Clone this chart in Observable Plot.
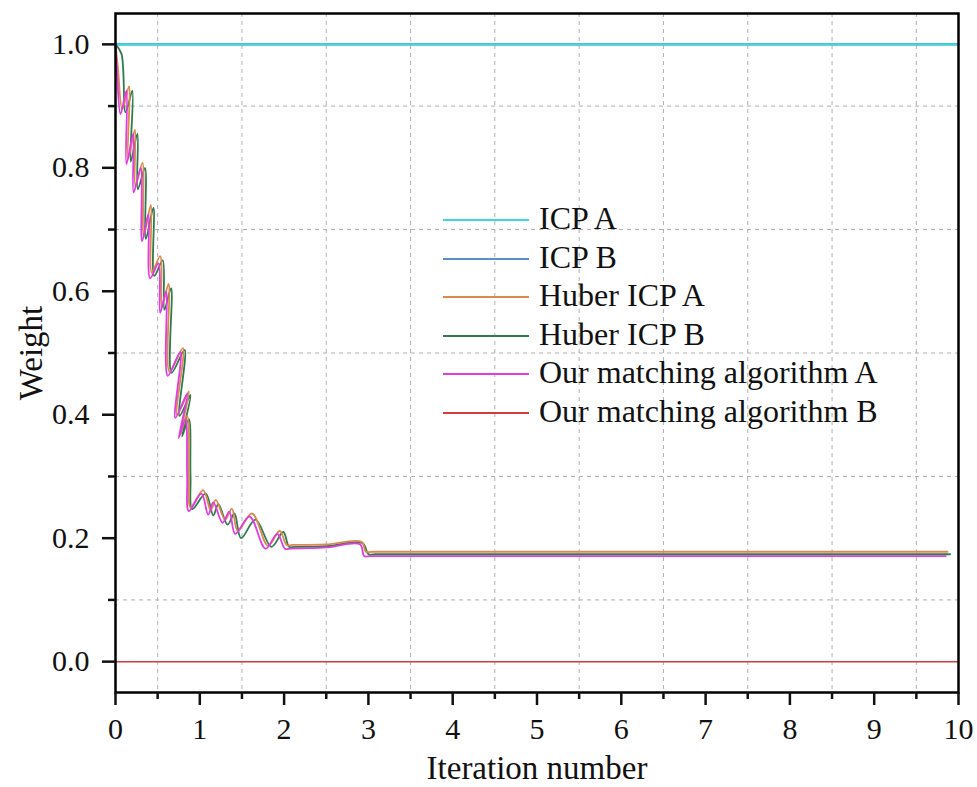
<!DOCTYPE html>
<html>
<head>
<meta charset="utf-8">
<script src="https://cdn.jsdelivr.net/npm/d3@7"></script>
<script src="https://cdn.jsdelivr.net/npm/@observablehq/plot@0.6"></script>
<style>
  html, body { margin: 0; padding: 0; background: #fff; }
  #wrap { position: relative; width: 977px; height: 787px; font-family: "Liberation Serif", "Times New Roman", serif; }
  #wrap svg text { font-family: "Liberation Serif", "Times New Roman", serif; }
  #legend { position: absolute; left: 443px; top: 199px; }
  .row { display: flex; align-items: center; height: 38.5px; }
  .sw { width: 86px; height: 0; margin-right: 10px; margin-top: 4px; }
  .lab { font-size: 32px; color: #111; line-height: 38px; white-space: nowrap; }
</style>
</head>
<body>
<div id="wrap"><div id="legend"></div></div>
<script>
// ---- tick definitions ----
const xMajor = [0, 1, 2, 3, 4, 5, 6, 7, 8, 9, 10];
const xMinor = [0.5, 1.5, 2.5, 3.5, 4.5, 5.5, 6.5, 7.5, 8.5, 9.5];
const yMajor = [0, 0.2, 0.4, 0.6, 0.8, 1.0];
const yMinor = [0.1, 0.3, 0.5, 0.7, 0.9];
const xTitle = "Iteration number";
const yTitle = "Weight";

// ---- series ----
const seriesNames = ["ICP A", "ICP B", "Huber ICP A", "Huber ICP B", "Our matching algorithm A", "Our matching algorithm B"];
const seriesColors = ["#3cd9dc", "#5b8fc9", "#d98a4e", "#2f7a4f", "#e03ce0", "#d83a3a"];

const icpA_x = [0, 10];
const icpA_y = [1.0, 1.0];
const icpB_x = [0, 10];
const icpB_y = [1.0, 1.0];

const hubA_x = [0.00,0.03,0.08,0.16,0.15,0.23,0.235,0.32,0.335,0.42,0.43,0.53,0.55,0.63,0.64,0.80,0.73,0.87,0.77,0.85,0.87,0.89,1.04,1.13,1.19,1.30,1.38,1.45,1.62,1.81,1.95,2.03,2.10,2.50,2.92,2.97,3.05,6.00,9.87];
const hubA_y = [1.000,0.960,0.895,0.932,0.815,0.862,0.770,0.808,0.690,0.740,0.630,0.657,0.575,0.612,0.470,0.508,0.400,0.438,0.368,0.398,0.300,0.250,0.278,0.245,0.262,0.230,0.248,0.212,0.240,0.188,0.212,0.189,0.189,0.190,0.194,0.178,0.178,0.178,0.178];

const hubB_x = [0.00,0.07,0.12,0.20,0.18,0.26,0.265,0.35,0.36,0.45,0.46,0.56,0.58,0.66,0.665,0.82,0.76,0.89,0.79,0.87,0.89,0.91,1.07,1.16,1.22,1.33,1.41,1.49,1.66,1.85,1.99,2.06,2.13,2.50,2.93,3.00,3.08,6.00,9.90];
const hubB_y = [1.000,0.985,0.890,0.925,0.810,0.855,0.765,0.800,0.685,0.735,0.625,0.650,0.570,0.605,0.468,0.505,0.398,0.432,0.365,0.393,0.300,0.247,0.272,0.237,0.255,0.222,0.240,0.200,0.230,0.186,0.210,0.186,0.186,0.187,0.192,0.174,0.174,0.174,0.174];

const ourA_x = [0.00,0.02,0.06,0.13,0.13,0.21,0.215,0.30,0.315,0.39,0.41,0.51,0.53,0.60,0.62,0.77,0.71,0.85,0.75,0.83,0.85,0.87,1.02,1.10,1.16,1.27,1.35,1.42,1.59,1.78,1.92,2.01,2.08,2.50,2.90,2.95,3.03,6.00,9.85];
const ourA_y = [1.000,0.950,0.887,0.925,0.806,0.855,0.760,0.800,0.681,0.725,0.621,0.645,0.565,0.600,0.463,0.502,0.395,0.434,0.362,0.393,0.300,0.244,0.272,0.238,0.258,0.225,0.243,0.207,0.235,0.183,0.207,0.183,0.183,0.185,0.190,0.171,0.171,0.171,0.171];

const ourB_x = [0, 10];
const ourB_y = [0.0, 0.0];

const pts = (xs, ys) => xs.map((x, i) => ({x, y: ys[i]}));

const FONT = "'Liberation Serif', 'Times New Roman', serif";
const lineOpts = (c, w, curve = "linear") => ({x: "x", y: "y", stroke: c, strokeWidth: w, strokeLinejoin: "round", strokeLinecap: "round", curve});

const chart = Plot.plot({
  width: 977,
  height: 787,
  marginLeft: 115,
  marginRight: 19,
  marginTop: 13,
  marginBottom: 95,
  style: {fontFamily: FONT, fontSize: "30px", background: "#fff", color: "#111", overflow: "visible"},
  x: {domain: [0, 10], label: null},
  y: {domain: [-0.05, 1.05], label: null},
  marks: [
    Plot.gridX(xMinor, {stroke: "#b0b0b0", strokeOpacity: 1, strokeDasharray: "4,4", strokeWidth: 1}),
    Plot.gridY(yMinor, {stroke: "#b0b0b0", strokeOpacity: 1, strokeDasharray: "4,4", strokeWidth: 1}),
    Plot.line(pts(ourB_x, ourB_y), lineOpts(seriesColors[5], 1.5)),
    Plot.line(pts(icpB_x, icpB_y), lineOpts(seriesColors[1], 2.5)),
    Plot.line(pts(icpA_x, icpA_y), lineOpts(seriesColors[0], 2.2)),
    Plot.line(pts(hubB_x, hubB_y), lineOpts(seriesColors[3], 1.8, "catmull-rom")),
    Plot.line(pts(hubA_x, hubA_y), lineOpts(seriesColors[2], 1.8, "catmull-rom")),
    Plot.line(pts(ourA_x, ourA_y), lineOpts(seriesColors[4], 1.8, "catmull-rom")),
    Plot.frame({stroke: "#000", strokeWidth: 2.5}),
    Plot.axisX(xMajor, {tickSize: 13, tickPadding: 12, strokeWidth: 2.5, label: null, fontSize: 30, fontFamily: FONT}),
    Plot.axisX(xMinor, {tickSize: 7, strokeWidth: 2.5, label: null, tickFormat: () => ""}),
    Plot.axisY(yMajor, {tickSize: 13, tickPadding: 13, strokeWidth: 2.5, label: null, fontSize: 30, fontFamily: FONT, tickFormat: d => d.toFixed(1)}),
    Plot.axisY(yMinor, {tickSize: 7, strokeWidth: 2.5, label: null, tickFormat: () => ""}),
    Plot.text([xTitle], {text: d => d, frameAnchor: "bottom", textAnchor: "middle", lineAnchor: "middle", dy: 76, fontSize: 33, fontFamily: FONT}),
    Plot.text([yTitle], {text: d => d, frameAnchor: "left", textAnchor: "middle", lineAnchor: "middle", rotate: -90, dx: -84, fontSize: 33, fontFamily: FONT})
  ]
});

const wrap = document.getElementById("wrap");
wrap.insertBefore(chart, wrap.firstChild);

const legend = document.getElementById("legend");
seriesNames.forEach((name, i) => {
  const row = document.createElement("div");
  row.className = "row";
  const sw = document.createElement("span");
  sw.className = "sw";
  sw.style.borderTop = `2px solid ${seriesColors[i]}`;
  const lab = document.createElement("span");
  lab.className = "lab";
  lab.textContent = name;
  row.appendChild(sw);
  row.appendChild(lab);
  legend.appendChild(row);
});
</script>
</body>
</html>
